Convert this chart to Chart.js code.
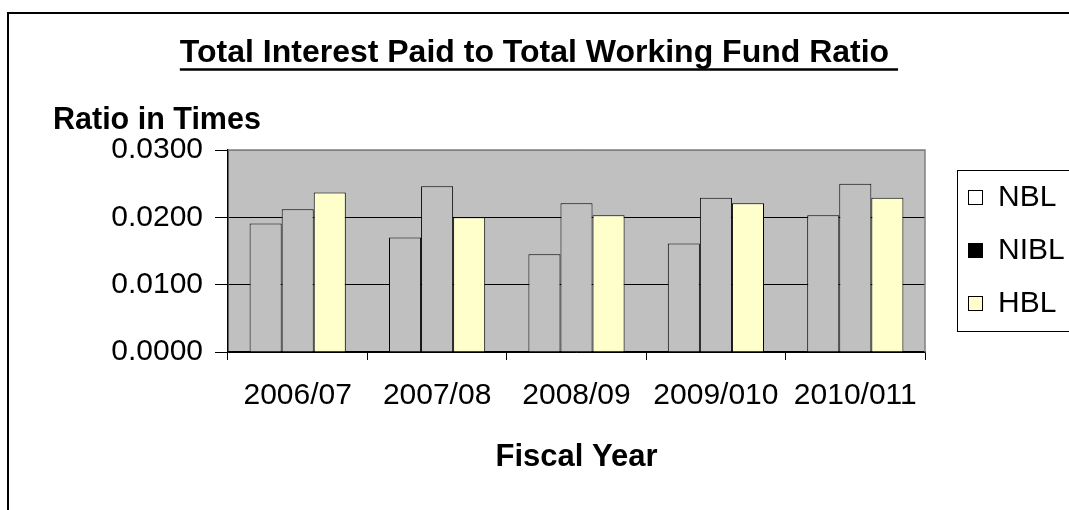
<!DOCTYPE html>
<html>
<head>
<meta charset="utf-8">
<title>Total Interest Paid to Total Working Fund Ratio</title>
<script src="https://cdn.jsdelivr.net/npm/chart.js"></script>
<style>
  html, body { margin: 0; padding: 0; background: #fff; }
  canvas { display: block; }
</style>
</head>
<body>
<canvas id="ratioChart" width="1069" height="510"></canvas>
<script>
// data
const fiscalYears = ["2006/07", "2007/08", "2008/09", "2009/010", "2010/011"];
const banks = ["NBL", "NIBL", "HBL"];
const nblRatio = [0.0191, 0.0170, 0.0145, 0.0161, 0.0203];
const niblRatio = [0.0212, 0.0246, 0.0221, 0.0229, 0.0250];
const hblRatio = [0.0237, 0.0200, 0.0203, 0.0221, 0.0229];
const yTicks = [0, 0.01, 0.02, 0.03];

const chartTitle = "Total Interest Paid to Total Working Fund Ratio";
const yTitle = "Ratio in Times";

const FONT = "'Liberation Sans', Arial, sans-serif";
const barFill = ["#C0C0C0", "#C0C0C0", "#FFFFCC"];
const legendFill = ["#FFFFFF", "#000000", "#FFFFCC"];

// plot background, outer frame, underlined title, y title, legend box
const excelLook = {
  id: "excelLook",
  beforeDraw(chart) {
    const { ctx, chartArea: a } = chart;
    ctx.save();
    ctx.fillStyle = "#C0C0C0";
    ctx.fillRect(a.left, a.top, a.right - a.left, a.bottom - a.top);
    ctx.restore();
  },
  afterDraw(chart) {
    const { ctx, chartArea: a } = chart;
    ctx.save();

    // gray top / right border of the plot
    ctx.strokeStyle = "#808080";
    ctx.lineWidth = 1.5;
    ctx.beginPath();
    ctx.moveTo(a.left, a.top);
    ctx.lineTo(a.right, a.top);
    ctx.lineTo(a.right, a.bottom);
    ctx.stroke();

    // outer frame (cut off right and bottom)
    ctx.strokeStyle = "#000";
    ctx.lineWidth = 2;
    ctx.beginPath();
    ctx.moveTo(8, 520);
    ctx.lineTo(8, 13);
    ctx.lineTo(1080, 13);
    ctx.stroke();

    // title, centred on the whole picture, underlined with trailing space
    ctx.fillStyle = "#000";
    ctx.font = "bold 32px " + FONT;
    ctx.textAlign = "center";
    ctx.textBaseline = "alphabetic";
    const cx = chart.width / 2;
    ctx.fillText(chartTitle, cx, 62);
    const w = ctx.measureText(chartTitle).width;
    const sp = ctx.measureText(" ").width;
    ctx.lineWidth = 2.5;
    ctx.beginPath();
    ctx.moveTo(cx - w / 2, 69.5);
    ctx.lineTo(cx + w / 2 + sp, 69.5);
    ctx.stroke();

    // y axis title, horizontal above the axis
    ctx.font = "bold 30.5px " + FONT;
    ctx.textAlign = "left";
    ctx.fillText(yTitle, 53, 129);

    // legend
    ctx.lineWidth = 1;
    ctx.strokeStyle = "#000";
    ctx.strokeRect(957.5, 170.5, 130, 161);
    ctx.font = "30px " + FONT;
    ctx.textBaseline = "middle";
    chart.data.datasets.forEach((ds, i) => {
      const cy = 197 + i * 53;
      ctx.fillStyle = legendFill[i];
      ctx.fillRect(968, cy - 7, 14, 14);
      ctx.strokeRect(968.5, cy - 6.5, 14, 14);
      ctx.fillStyle = "#000";
      ctx.fillText(ds.label, 998, cy + 1);
    });
    ctx.restore();
  }
};

const seriesValues = [nblRatio, niblRatio, hblRatio];

new Chart(document.getElementById("ratioChart"), {
  type: "bar",
  data: {
    labels: fiscalYears,
    datasets: banks.map((name, i) => ({
      label: name,
      data: seriesValues[i],
      backgroundColor: barFill[i],
      borderColor: "#000",
      borderWidth: 1,
      borderSkipped: "bottom",
      categoryPercentage: 0.69,
      barPercentage: 1.0
    }))
  },
  options: {
    responsive: false,
    animation: false,
    layout: { padding: { top: 150, right: 144, bottom: 0, left: 0 } },
    plugins: {
      legend: { display: false },
      tooltip: { enabled: false },
      title: { display: false }
    },
    scales: {
      x: {
        offset: true,
        grid: {
          offset: true,
          drawOnChartArea: false,
          tickLength: 8,
          color: "#000",
          lineWidth: 1
        },
        border: { color: "#000", width: 1.5 },
        ticks: {
          color: "#000",
          font: { family: FONT, size: 30 },
          padding: 18,
          maxRotation: 0,
          autoSkip: false
        },
        title: {
          display: true,
          text: "Fiscal Year",
          color: "#000",
          font: { family: FONT, size: 31, weight: "bold" },
          padding: { top: 0, bottom: 34 }
        },
        afterFit(scale) { scale.height = 158; }
      },
      y: {
        min: 0,
        max: 0.03,
        afterBuildTicks(scale) { scale.ticks = yTicks.map(v => ({ value: v })); },
        grid: {
          color: ctx => (ctx.tick && ctx.tick.value === 0.03 ? "#808080" : "#000"),
          tickColor: "#000",
          tickLength: 13,
          lineWidth: 1
        },
        border: { color: "#000", width: 1.5 },
        ticks: {
          color: "#000",
          font: { family: FONT, size: 30 },
          padding: 12,
          callback: v => Number(v).toFixed(4)
        },
        afterFit(scale) { scale.width = 228; }
      }
    }
  },
  plugins: [excelLook]
});
</script>
</body>
</html>
